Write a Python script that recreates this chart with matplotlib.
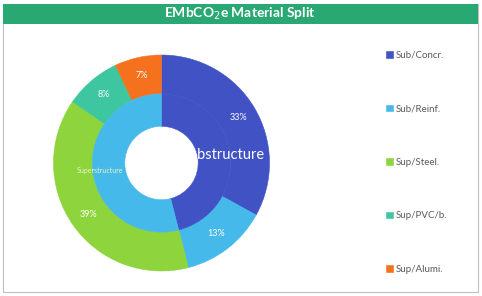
import matplotlib.pyplot as plt
from matplotlib.patches import Rectangle

# outer ring: material split (%)
materials = ["Sub/Concr.", "Sub/Reinf.", "Sup/Steel.", "Sup/PVC/b.", "Sup/Alumi."]
material_pct = [33, 13, 38.6, 8.4, 7]
material_colors = ["#4152C4", "#45B9EA", "#8ED43C", "#3EC6A0", "#F5711E"]

# inner ring: structure split (%)
groups = ["Substructure", "Superstructure"]
group_pct = [46, 54]
group_colors = ["#4152C4", "#45B9EA"]

plt.rcParams["font.family"] = ["Lato", "DejaVu Sans"]

W, H = 482, 296
fig = plt.figure(figsize=(W / 100, H / 100), dpi=100)

# frame and title band
fig.patches.append(Rectangle((3 / W, 4 / H), 475 / W, 288 / H, transform=fig.transFigure,
                             facecolor="white", edgecolor="#BFBFBF", lw=0.8, zorder=-2))
fig.patches.append(Rectangle((3 / W, 272 / H), 475 / W, 20 / H, transform=fig.transFigure,
                             facecolor="#29A873", edgecolor="none", zorder=-1))
fig.text(240 / W, 282 / H, "EMbCO$_2$e Material Split", color="white", fontsize=10,
         fontweight="bold", ha="center", va="center")

ax = fig.add_axes([53.5 / W, 25 / H, 216 / W, 216 / H])
ax.set_zorder(2)

wedges, _, autotexts = ax.pie(material_pct, radius=1.0, colors=material_colors,
                              startangle=90, counterclock=False,
                              autopct=lambda p: f"{p:.0f}%", pctdistance=0.83,
                              wedgeprops=dict(width=0.36, linewidth=0.4),
                              textprops=dict(color="white", fontsize=6.5))

inner, texts = ax.pie(group_pct, radius=0.64, colors=group_colors,
                      startangle=90, counterclock=False, labels=groups,
                      labeldistance=0.9,
                      wedgeprops=dict(width=0.3, linewidth=0.4),
                      textprops=dict(color="white", ha="center", va="center"))
for w in wedges + inner:
    w.set_edgecolor(w.get_facecolor())
texts[0].set_fontsize(10.5)
texts[1].set_fontsize(5)
texts[1].set_color("#E6F7C8")
ax.set_xlim(-1, 1)
ax.set_ylim(-1, 1)

fig.legend(wedges, materials, loc="upper left", bbox_to_anchor=(381 / W, 250 / H),
           frameon=False, fontsize=7, labelcolor="#595959",
           handlelength=0.7, handleheight=0.7, handletextpad=0.3,
           labelspacing=4.58, borderpad=0)

fig.savefig("out.png", dpi=100)
